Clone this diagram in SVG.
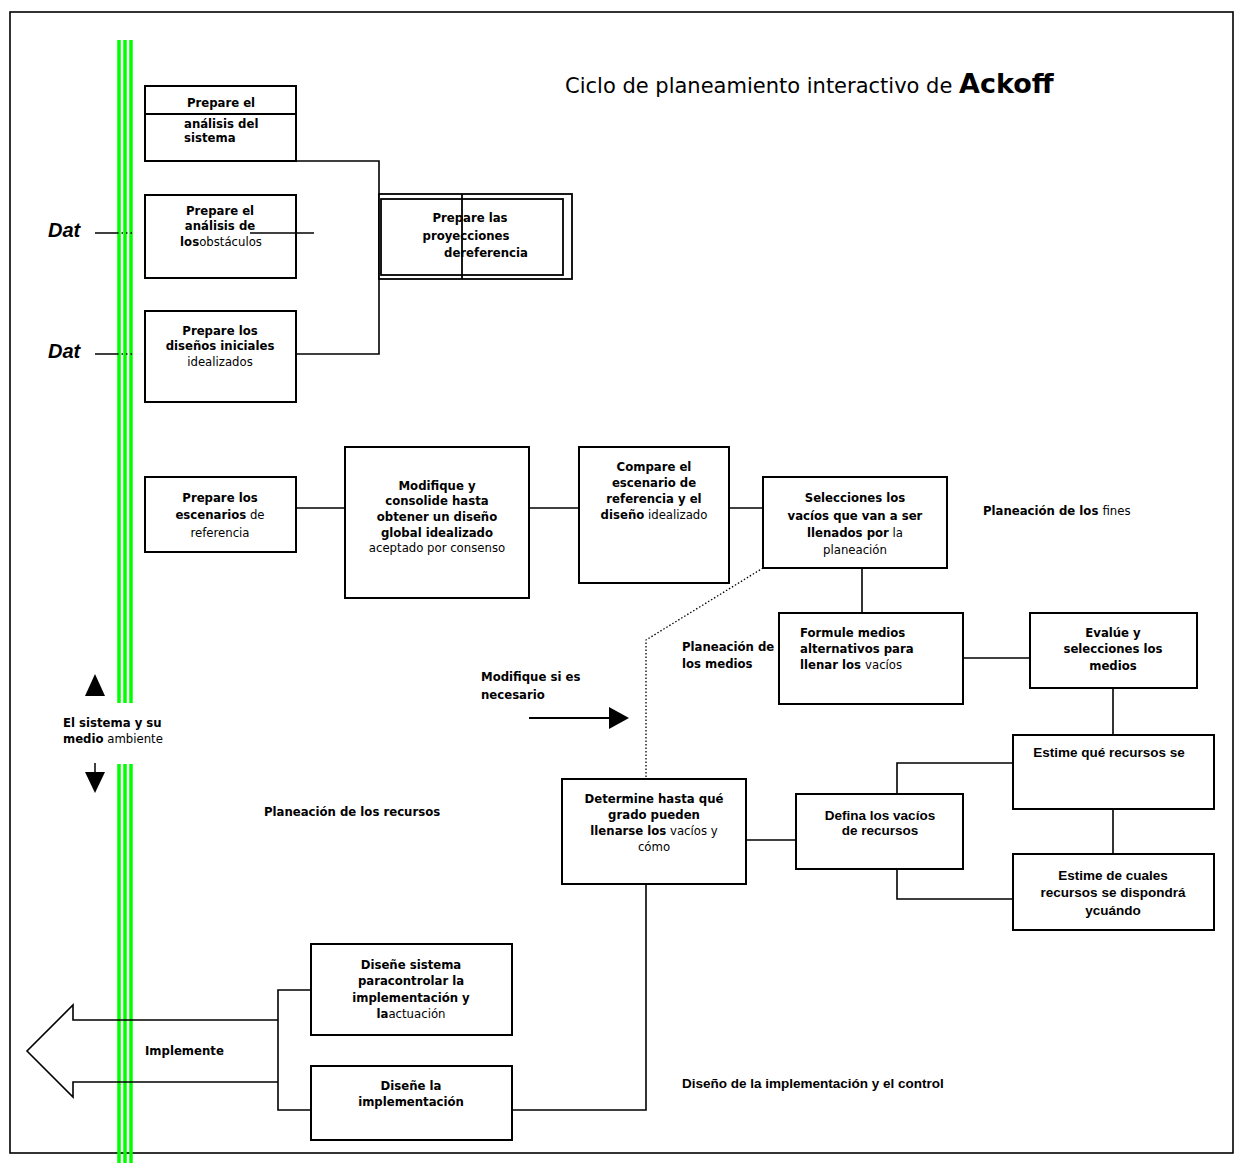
<svg xmlns="http://www.w3.org/2000/svg" width="1235" height="1163" viewBox="0 0 1235 1163">
  <style>
    .box { fill: #ffffff; stroke: #000000; stroke-width: 2; }
    .wire { fill: none; stroke: #000000; stroke-width: 1.6; }
    .t { font-family: "DejaVu Sans Condensed", "DejaVu Sans", sans-serif; font-size: 13px; font-weight: bold; fill: #000000; }
    .c { text-anchor: middle; }
    .r { font-weight: normal; }
    .a { font-family: "Liberation Sans", Arial, sans-serif; font-size: 13.5px; font-weight: bold; fill: #000000; }
    .green { stroke: #00ff00; stroke-width: 3.5; }
  </style>

  <rect width="1235" height="1163" fill="#ffffff"/>
  <!-- page frame -->
  <rect x="10" y="12" width="1223" height="1141" fill="none" stroke="#000000" stroke-width="1.6"/>

  <!-- title -->
  <text x="565" y="93" font-family="'DejaVu Sans', sans-serif" font-size="21" fill="#000000">Ciclo de planeamiento interactivo de <tspan font-weight="bold" font-size="27">Ackoff</tspan></text>

  <!-- system boundary: triple green band -->
  <g id="boundary">
    <line class="green" x1="119" y1="40" x2="119" y2="703"/>
    <line class="green" x1="125" y1="40" x2="125" y2="703"/>
    <line class="green" x1="131" y1="40" x2="131" y2="703"/>
    <line class="green" x1="119" y1="764" x2="119" y2="1163"/>
    <line class="green" x1="125" y1="764" x2="125" y2="1163"/>
    <line class="green" x1="131" y1="764" x2="131" y2="1163"/>
    <polygon points="95,674 105,696 85,696" fill="#000000"/>
    <line x1="95" y1="763" x2="95" y2="773" stroke="#000000" stroke-width="1.5"/>
    <polygon points="85,772 105,772 95,793" fill="#000000"/>
    <text class="t" x="63" y="727">El sistema y su</text>
    <text class="t" x="63" y="743">medio<tspan class="r"> ambiente</tspan></text>
  </g>

  <!-- data inputs -->
  <g id="data-inputs">
    <text x="48" y="237" font-family="'Liberation Sans', Arial, sans-serif" font-size="20" font-weight="bold" font-style="italic">Dat</text>
    <text x="48" y="358" font-family="'Liberation Sans', Arial, sans-serif" font-size="20" font-weight="bold" font-style="italic">Dat</text>
    <line x1="95" y1="233" x2="117" y2="233" stroke="#000000" stroke-width="1.5"/>
    <line x1="117" y1="233" x2="132" y2="233" stroke="#000000" stroke-width="1.5" stroke-dasharray="1.5,3"/>
    <line x1="95" y1="354" x2="117" y2="354" stroke="#000000" stroke-width="1.5"/>
    <line x1="117" y1="354" x2="132" y2="354" stroke="#000000" stroke-width="1.5" stroke-dasharray="1.5,3"/>
  </g>

  <!-- connectors -->
  <g id="connectors">
    <polyline class="wire" points="296,161 379,161 379,354 296,354"/>
    <line class="wire" x1="296" y1="508" x2="345" y2="508"/>
    <line class="wire" x1="529" y1="508" x2="579" y2="508"/>
    <line class="wire" x1="729" y1="508" x2="763" y2="508"/>
    <line class="wire" x1="862" y1="568" x2="862" y2="613"/>
    <line class="wire" x1="963" y1="658" x2="1030" y2="658"/>
    <line class="wire" x1="1113" y1="688" x2="1113" y2="735"/>
    <line class="wire" x1="1113" y1="809" x2="1113" y2="854"/>
    <polyline class="wire" points="897,794 897,763 1013,763"/>
    <polyline class="wire" points="897,869 897,899 1013,899"/>
    <line class="wire" x1="746" y1="840" x2="796" y2="840"/>
    <polyline points="763,568 646,640 646,779" fill="none" stroke="#000000" stroke-width="1.3" stroke-dasharray="1.5,2"/>
    <polyline class="wire" points="646,884 646,1110 512,1110"/>
    <polyline class="wire" points="311,990 278,990 278,1110 311,1110"/>
    <!-- modify-if-needed arrow -->
    <line x1="529" y1="718" x2="612" y2="718" stroke="#000000" stroke-width="1.8"/>
    <polygon points="609,707 629,718 609,729" fill="#000000"/>
    <!-- implement arrow -->
    <polyline points="278,1020 73,1020 73,1005 27,1051 73,1097 73,1082 278,1082" fill="none" stroke="#000000" stroke-width="1.6"/>
  </g>

  <g id="n-sistema">
    <rect class="box" x="145" y="86" width="151" height="75"/>
    <line x1="145" y1="114" x2="296" y2="114" stroke="#000000" stroke-width="2"/>
    <text class="t c" x="221" y="107">Prepare el</text>
    <text class="t" x="184" y="128">análisis del</text>
    <text class="t" x="184" y="142">sistema</text>
  </g>

  <g id="n-obstaculos">
    <rect class="box" x="145" y="195" width="151" height="83"/>
    <text class="t c" x="220" y="215">Prepare el</text>
    <text class="t c" x="220" y="230">análisis de</text>
    <text class="t c" x="221" y="246">los<tspan class="r">obstáculos</tspan></text>
    <line x1="250" y1="233" x2="314" y2="233" stroke="#000000" stroke-width="1.6"/>
  </g>

  <g id="n-disenos">
    <rect class="box" x="145" y="311" width="151" height="91"/>
    <text class="t c" x="220" y="335">Prepare los</text>
    <text class="t c" x="220" y="350">diseños iniciales</text>
    <text class="t c r" x="220" y="366">idealizados</text>
  </g>

  <g id="n-proyecciones">
    <rect x="379" y="194" width="193" height="85" fill="#ffffff" stroke="#000000" stroke-width="1.8"/>
    <rect x="381" y="199" width="182" height="76" fill="none" stroke="#000000" stroke-width="1.8"/>
    <line x1="462" y1="194" x2="462" y2="279" stroke="#000000" stroke-width="1.8"/>
    <text class="t c" x="470" y="222">Prepare las</text>
    <text class="t c" x="466" y="240">proyecciones</text>
    <text class="t c" x="486" y="257">dereferencia</text>
  </g>

  <g id="n-escenarios">
    <rect class="box" x="145" y="477" width="151" height="75"/>
    <text class="t c" x="220" y="502">Prepare los</text>
    <text class="t c" x="220" y="519">escenarios<tspan class="r"> de</tspan></text>
    <text class="t c r" x="220" y="537">referencia</text>
  </g>

  <g id="n-consolide">
    <rect class="box" x="345" y="447" width="184" height="151"/>
    <text class="t c" x="437" y="490">Modifique y</text>
    <text class="t c" x="437" y="505">consolide hasta</text>
    <text class="t c" x="437" y="521">obtener un diseño</text>
    <text class="t c" x="437" y="537">global idealizado</text>
    <text class="t c r" x="437" y="552">aceptado por consenso</text>
  </g>

  <g id="n-compare">
    <rect class="box" x="579" y="447" width="150" height="136"/>
    <text class="t c" x="654" y="471">Compare el</text>
    <text class="t c" x="654" y="487">escenario de</text>
    <text class="t c" x="654" y="503">referencia y el</text>
    <text class="t c" x="654" y="519">diseño<tspan class="r"> idealizado</tspan></text>
  </g>

  <g id="n-vacios">
    <rect class="box" x="763" y="477" width="184" height="91"/>
    <text class="t c" x="855" y="502">Selecciones los</text>
    <text class="t c" x="855" y="520">vacíos que van a ser</text>
    <text class="t c" x="855" y="537">llenados por<tspan class="r"> la</tspan></text>
    <text class="t c r" x="855" y="554">planeación</text>
  </g>

  <text class="t" x="983" y="515">Planeación de los <tspan class="r">fines</tspan></text>

  <g id="n-formule">
    <rect class="box" x="779" y="613" width="184" height="91"/>
    <text class="t" x="800" y="637">Formule medios</text>
    <text class="t" x="800" y="653">alternativos para</text>
    <text class="t" x="800" y="669">llenar los <tspan class="r">vacíos</tspan></text>
  </g>

  <text class="t" x="682" y="651">Planeación de</text>
  <text class="t" x="682" y="668">los medios</text>

  <g id="n-evalue">
    <rect class="box" x="1030" y="613" width="167" height="75"/>
    <text class="t c" x="1113" y="637">Evalúe y</text>
    <text class="t c" x="1113" y="653">selecciones los</text>
    <text class="t c" x="1113" y="670">medios</text>
  </g>

  <g id="n-estime-que">
    <rect class="box" x="1013" y="735" width="201" height="74"/>
    <text class="a c" x="1109" y="757">Estime qué recursos se</text>
  </g>

  <g id="n-estime-cuales">
    <rect class="box" x="1013" y="854" width="201" height="76"/>
    <text class="a c" x="1113" y="880">Estime de cuales</text>
    <text class="a c" x="1113" y="897">recursos se dispondrá</text>
    <text class="a c" x="1113" y="915">ycuándo</text>
  </g>

  <g id="n-defina">
    <rect class="box" x="796" y="794" width="167" height="75"/>
    <text class="a c" x="880" y="820">Defina los vacíos</text>
    <text class="a c" x="880" y="835">de recursos</text>
  </g>

  <g id="n-determine">
    <rect class="box" x="562" y="779" width="184" height="105"/>
    <text class="t c" x="654" y="803">Determine hasta qué</text>
    <text class="t c" x="654" y="819">grado pueden</text>
    <text class="t c" x="654" y="835">llenarse los<tspan class="r"> vacíos y</tspan></text>
    <text class="t c r" x="654" y="851">cómo</text>
  </g>

  <text class="t" x="481" y="681">Modifique si es</text>
  <text class="t" x="481" y="699">necesario</text>

  <text class="t" x="264" y="816">Planeación de los recursos</text>

  <g id="n-control">
    <rect class="box" x="311" y="944" width="201" height="91"/>
    <text class="t c" x="411" y="969">Diseñe sistema</text>
    <text class="t c" x="411" y="985">paracontrolar la</text>
    <text class="t c" x="411" y="1002">implementación y</text>
    <text class="t c" x="411" y="1018">la<tspan class="r">actuación</tspan></text>
  </g>

  <g id="n-implementacion">
    <rect class="box" x="311" y="1066" width="201" height="74"/>
    <text class="t c" x="411" y="1090">Diseñe la</text>
    <text class="t c" x="411" y="1106">implementación</text>
  </g>

  <text class="t" x="145" y="1055">Implemente</text>

  <text x="682" y="1088" font-family="'Liberation Sans', Arial, sans-serif" font-size="13.5" font-weight="bold">Diseño de la implementación y el control</text>
</svg>
